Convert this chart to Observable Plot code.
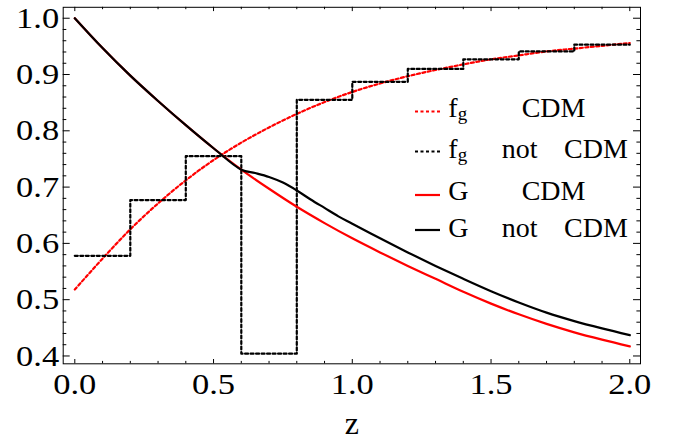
<!DOCTYPE html>
<html>
<head>
<meta charset="utf-8">
<script src="https://cdn.jsdelivr.net/npm/d3@7"></script>
<script src="https://cdn.jsdelivr.net/npm/@observablehq/plot@0.6"></script>
<style>
  html, body { margin: 0; padding: 0; background: #fff; }
  #chart { width: 676px; height: 441px; }
</style>
</head>
<body>
<div id="chart"></div>
<script>
// ---- data ----
const zCurve = [0, 0.1, 0.2, 0.3, 0.4, 0.5, 0.6, 0.7, 0.8, 0.9, 1.0, 1.1, 1.2, 1.3, 1.4, 1.5, 1.6, 1.7, 1.8, 1.9, 2.0];
const fgCDM  = [0.518, 0.573, 0.625, 0.671, 0.712, 0.748, 0.779, 0.806, 0.830, 0.851, 0.869, 0.884, 0.897, 0.908, 0.918, 0.927, 0.934, 0.941, 0.946, 0.951, 0.956];
const GCDM   = [1.000, 0.947, 0.898, 0.853, 0.810, 0.769, 0.731, 0.697, 0.665, 0.636, 0.609, 0.584, 0.560, 0.537, 0.514, 0.493, 0.474, 0.457, 0.442, 0.429, 0.417];

const stepEdges = [0, 0.2, 0.4, 0.6, 0.8, 1.0, 1.2, 1.4, 1.6, 1.8, 2.0];
const fgNotCDM  = [0.578, 0.677, 0.755, 0.404, 0.855, 0.887, 0.910, 0.927, 0.941, 0.953];

const zGnot   = [0, 0.1, 0.2, 0.3, 0.4, 0.5, 0.6, 0.65, 0.7, 0.75, 0.8, 0.85, 0.9, 0.95, 1.0, 1.1, 1.2, 1.3, 1.4, 1.5, 1.6, 1.7, 1.8, 1.9, 2.0];
const GnotCDM = [1.000, 0.947, 0.898, 0.853, 0.810, 0.769, 0.731, 0.725, 0.718, 0.708, 0.694, 0.678, 0.663, 0.648, 0.635, 0.609, 0.584, 0.560, 0.537, 0.515, 0.495, 0.477, 0.462, 0.449, 0.437];

const xMajor = [0, 0.5, 1.0, 1.5, 2.0];
const xMinor = [0.1, 0.2, 0.3, 0.4, 0.6, 0.7, 0.8, 0.9, 1.1, 1.2, 1.3, 1.4, 1.6, 1.7, 1.8, 1.9];
const yMajor = [0.4, 0.5, 0.6, 0.7, 0.8, 0.9, 1.0];
const yMinor = [0.42, 0.44, 0.46, 0.48, 0.52, 0.54, 0.56, 0.58, 0.62, 0.64, 0.66, 0.68, 0.72, 0.74, 0.76, 0.78, 0.82, 0.84, 0.86, 0.88, 0.92, 0.94, 0.96, 0.98];

const legendSymbols = ["f", "f", "G", "G"];
const legendModels  = ["CDM", "not CDM", "CDM", "not CDM"];

// ---- tables built from the arrays ----
const fgCDMData = zCurve.map((z, i) => ({z, v: fgCDM[i]}));
const GCDMData = zCurve.map((z, i) => ({z, v: GCDM[i]}));
const GnotData = zGnot.map((z, i) => ({z, v: GnotCDM[i]}));
const stepData = stepEdges.map((z, i) => ({z, v: fgNotCDM[Math.min(i, fgNotCDM.length - 1)]}));

// ---- layout ----
const W = 676, H = 441;
const mL = 62.7, mR = 36, mT = 6.8, mB = 77.7;
const innerW = W - mL - mR, innerH = H - mT - mB;
const FONT = "Liberation Serif";
const RED = "#ff0000";
const dash = "3,2.5";

const plot = Plot.plot({
  width: W, height: H,
  marginLeft: mL, marginRight: mR, marginTop: mT, marginBottom: mB,
  style: {fontFamily: FONT, fontSize: "30px"},
  x: {domain: [-0.0418, 2.0386], ticks: xMajor, tickSize: 0, tickPadding: 9, tickFormat: d3.format(".1f"), label: null},
  y: {domain: [0.3861, 1.0194], ticks: yMajor, tickSize: 0, tickPadding: 4, tickFormat: d3.format(".1f"), label: null},
  marks: [
    // ticks on all four sides, pointing inward
    Plot.tickX(xMajor, {x: d => d, insetTop: innerH - 4.3, stroke: "black"}),
    Plot.tickX(xMinor, {x: d => d, insetTop: innerH - 2.4, stroke: "black"}),
    Plot.tickX(xMajor, {x: d => d, insetBottom: innerH - 4.3, stroke: "black"}),
    Plot.tickX(xMinor, {x: d => d, insetBottom: innerH - 2.4, stroke: "black"}),
    Plot.tickY(yMajor, {y: d => d, insetRight: innerW - 7, stroke: "black"}),
    Plot.tickY(yMinor, {y: d => d, insetRight: innerW - 3.6, stroke: "black"}),
    Plot.tickY(yMajor, {y: d => d, insetLeft: innerW - 7, stroke: "black"}),
    Plot.tickY(yMinor, {y: d => d, insetLeft: innerW - 3.6, stroke: "black"}),
    // curves
    Plot.line(fgCDMData, {x: "z", y: "v", stroke: RED, strokeWidth: 2.2, strokeDasharray: dash, curve: "catmull-rom"}),
    Plot.line(stepData, {x: "z", y: "v", stroke: "black", strokeWidth: 2.2, strokeDasharray: dash, curve: "step-after"}),
    Plot.line(GCDMData, {x: "z", y: "v", stroke: RED, strokeWidth: 2.2, curve: "catmull-rom"}),
    Plot.line(GnotData, {x: "z", y: "v", stroke: "black", strokeWidth: 2.2, curve: "catmull-rom"}),
    Plot.frame({stroke: "black", strokeWidth: 1}),
    Plot.text(["z"], {frameAnchor: "bottom", dy: 70, lineAnchor: "bottom", fontSize: 32, fill: "black"})
  ]
});

// force the serif face on every text of the plot (axes included)
plot.querySelectorAll("text").forEach(t => {
  t.setAttribute("font-family", FONT);
  t.style.fontFamily = FONT;
  t.setAttribute("fill", "black");
});
// the reference's tick numerals are a little broader than this face
plot.querySelectorAll('[aria-label$="tick label"] text, g.tick text').forEach(t => {
  const tr = t.getAttribute("transform") || "";
  t.setAttribute("transform", tr + " scale(1.15,1)");
});

// ---- legend ----
const svg = d3.select(plot);
const leg = svg.append("g").attr("font-family", FONT).attr("fill", "black").attr("text-anchor", "start");
const rowBase = [116.7, 158.3, 200, 236.7];
const rowLine = [111.5, 151.5, 195, 230];
const sampleStyle = [
  {stroke: RED, dash: dash},
  {stroke: "black", dash: dash},
  {stroke: RED, dash: null},
  {stroke: "black", dash: null}
];
legendSymbols.forEach((s, i) => {
  leg.append("line")
    .attr("x1", 415).attr("x2", 440)
    .attr("y1", rowLine[i]).attr("y2", rowLine[i])
    .attr("stroke", sampleStyle[i].stroke)
    .attr("stroke-width", 2.2)
    .attr("stroke-dasharray", sampleStyle[i].dash);
  const t = leg.append("text").attr("x", 448.3).attr("y", rowBase[i]).attr("font-size", 28);
  t.append("tspan").text(s);
  if (s === "f") t.append("tspan").attr("font-size", 19).attr("dy", 3).text("g");
  const parts = legendModels[i].split(" ");
  if (parts.length === 1) {
    leg.append("text").attr("x", 521.7).attr("y", rowBase[i]).attr("font-size", 28).text(parts[0]);
  } else {
    leg.append("text").attr("x", 501.7).attr("y", rowBase[i]).attr("font-size", 28).text(parts[0]);
    leg.append("text").attr("x", 564).attr("y", rowBase[i]).attr("font-size", 28).text(parts[1]);
  }
});

document.getElementById("chart").appendChild(plot);
</script>
</body>
</html>
